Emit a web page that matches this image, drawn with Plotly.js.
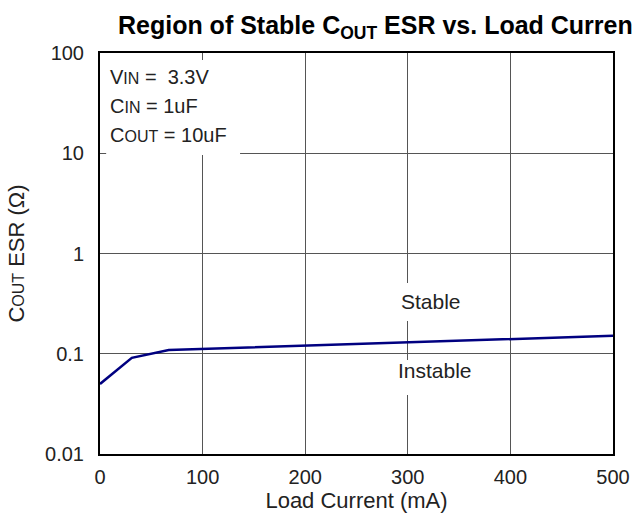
<!DOCTYPE html>
<html>
<head>
<meta charset="utf-8">
<script src="https://cdn.plot.ly/plotly-3.0.1.min.js"></script>
<style>body{margin:0;padding:0;background:#fff;} #chart{width:632px;height:528px;}</style>
</head>
<body>
<div id="chart"></div>
<script>
// Data
const loadCurrent = [0, 31, 67, 500];          // mA
const esrBoundary = [0.05, 0.091, 0.109, 0.151]; // ohm
const xTickVals = [0, 100, 200, 300, 400, 500];
const yTickVals = [0.01, 0.1, 1, 10, 100];
const yTickText = ["0.01", "0.1", "1", "10", "100"];
const conditionLines = [
  "V<span style='font-size:16px'>IN</span> =  3.3V",
  "C<span style='font-size:16px'>IN</span> = 1uF",
  "C<span style='font-size:16px'>OUT</span> = 10uF"
];
const regionLabels = ["Stable", "Instable"];

const FONT = "Liberation Sans, Arial, sans-serif";
const TXT = "#222";

const trace = {
  x: loadCurrent,
  y: esrBoundary,
  type: "scatter",
  mode: "lines",
  line: {color: "#000080", width: 2.5},
  hoverinfo: "skip",
  showlegend: false
};

const layout = {
  width: 632,
  height: 528,
  margin: {l: 100, r: 19, t: 53, b: 74},
  paper_bgcolor: "#fff",
  plot_bgcolor: "#fff",
  font: {family: FONT, color: TXT, size: 20},
  title: {
    text: "<b>Region of Stable C<sub>OUT</sub> ESR vs. Load Current</b>",
    font: {family: FONT, size: 25, color: "#000"},
    xref: "paper", x: 0.035, xanchor: "left",
    yref: "container", y: 1 - 25/528, yanchor: "middle"
  },
  xaxis: {
    range: [0, 500],
    tickvals: xTickVals,
    ticks: "",
    ticklabelstandoff: 4,
    showgrid: true,
    gridcolor: "#555",
    gridwidth: 1,
    zeroline: false,
    showline: true,
    linecolor: "#000",
    linewidth: 2,
    mirror: true,
    tickfont: {family: FONT, size: 20, color: TXT},
    title: {text: "Load Current (mA)", font: {family: FONT, size: 22, color: TXT}, standoff: 2}
  },
  yaxis: {
    type: "log",
    range: [-2, 2],
    tickvals: yTickVals,
    ticktext: yTickText,
    ticks: "",
    ticklabelstandoff: 10,
    showgrid: true,
    gridcolor: "#555",
    gridwidth: 1,
    zeroline: false,
    showline: true,
    linecolor: "#000",
    linewidth: 2,
    mirror: true,
    tickfont: {family: FONT, size: 20, color: TXT},
    title: {text: "C<span style='font-size:16px'>OUT</span> ESR (Ω)", font: {family: FONT, size: 22, color: TXT}, standoff: 14}
  },
  shapes: [
    {type: "rect", xref: "paper", yref: "paper", x0: 0.012, x1: 0.273, y0: 0.7456, y1: 0.9825,
     fillcolor: "#fff", line: {width: 0}, layer: "above"},
    {type: "rect", xref: "paper", yref: "paper", x0: 0.56, x1: 0.69, y0: (454-321)/401, y1: (454-283)/401,
     fillcolor: "#fff", line: {width: 0}, layer: "above"},
    {type: "rect", xref: "paper", yref: "paper", x0: 0.56, x1: 0.71, y0: (454-395)/401, y1: (454-360)/401,
     fillcolor: "#fff", line: {width: 0}, layer: "above"}
  ],
  annotations: [
    {xref: "paper", yref: "paper", x: 8/513, y: (454-77)/401, xanchor: "left", yanchor: "middle",
     text: conditionLines[0], showarrow: false, font: {family: FONT, size: 20, color: TXT}},
    {xref: "paper", yref: "paper", x: 8/513, y: (454-106)/401, xanchor: "left", yanchor: "middle",
     text: conditionLines[1], showarrow: false, font: {family: FONT, size: 20, color: TXT}},
    {xref: "paper", yref: "paper", x: 8/513, y: (454-135)/401, xanchor: "left", yanchor: "middle",
     text: conditionLines[2], showarrow: false, font: {family: FONT, size: 20, color: TXT}},
    {xref: "paper", yref: "paper", x: (431-100)/513, y: (454-301)/401, xanchor: "center", yanchor: "middle",
     text: regionLabels[0], showarrow: false, font: {family: FONT, size: 21, color: TXT}},
    {xref: "paper", yref: "paper", x: (435-100)/513, y: (454-370)/401, xanchor: "center", yanchor: "middle",
     text: regionLabels[1], showarrow: false, font: {family: FONT, size: 21, color: TXT}}
  ]
};

Plotly.newPlot("chart", [trace], layout, {staticPlot: true, displayModeBar: false});
</script>
</body>
</html>
